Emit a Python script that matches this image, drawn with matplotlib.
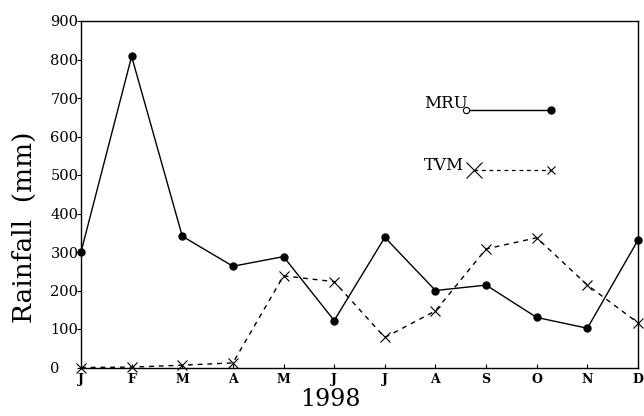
import matplotlib
matplotlib.use("Agg")
import matplotlib.pyplot as plt

months = ["J", "F", "M", "A", "M", "J", "J", "A", "S", "O", "N", "D"]
mru = [300, 808, 341, 263, 288, 122, 338, 200, 214, 130, 102, 331]
tvm = [0, 1, 6, 12, 238, 223, 78, 147, 308, 337, 214, 116]
yticks = [0, 100, 200, 300, 400, 500, 600, 700, 800, 900]

plt.rcParams['font.family'] = ['DejaVu Serif']

fig = plt.figure(figsize=(6.44, 4.16), dpi=100)
ax = fig.add_axes([81/644, 1-367.5/416, (638-81)/644, (367.5-21)/416])

x = list(range(len(months)))
ax.plot(x, mru, '-', color='black', lw=1.0, marker='o', ms=5, mfc='black', mec='black', clip_on=False, zorder=3)
ax.plot(x, tvm, color='black', lw=1.0, ls=(0, (3.5, 3.5)), marker='x', ms=7, mew=0.8, clip_on=False, zorder=3)

ax.set_xlim(0, 11)
ax.set_ylim(0, 900)
ax.set_xticks(x)
ax.set_xticklabels(months, fontsize=9, fontweight='bold')
ax.set_yticks(yticks)
ax.set_yticklabels([str(v) for v in yticks], fontsize=10.5)
ax.tick_params(axis='x', direction='in', length=3, width=0.8, pad=4)
ax.tick_params(axis='y', direction='out', length=3, width=0.8, pad=19)
for lab in ax.get_yticklabels():
    lab.set_horizontalalignment('left')
for sp in ax.spines.values():
    sp.set_linewidth(1.0)

ax.set_ylabel("Rainfall  (mm)", fontsize=19)
ax.yaxis.set_label_coords(-0.079, 0.405)
ax.set_xlabel("1998", fontsize=17)
ax.xaxis.set_label_coords(0.447, -0.058)

# custom legend drawn in axes coordinates
def ax_xy(px, py):
    return ((px - 81) / (638 - 81), (367.5 - py) / (367.5 - 21))

tx, ty = ax_xy(424, 103)
ax.text(tx, ty, "MRU", transform=ax.transAxes, fontsize=12, va='center', ha='left')
x0, y0 = ax_xy(466, 110)
x1, _ = ax_xy(551, 110)
ax.plot([x0, x1], [y0, y0], '-', color='black', lw=1.0, transform=ax.transAxes)
ax.plot([x0], [y0], 'o', ms=4.5, mfc='white', mec='black', mew=0.8, transform=ax.transAxes)
ax.plot([x1], [y0], 'o', ms=5, mfc='black', mec='black', transform=ax.transAxes)

tx, ty = ax_xy(424, 165)
ax.text(tx, ty, "TVM", transform=ax.transAxes, fontsize=12, va='center', ha='left')
x0, y0 = ax_xy(474, 170)
x1, _ = ax_xy(551, 170)
ax.plot([x0, x1], [y0, y0], color='black', lw=0.9, ls=(0, (3, 3)), transform=ax.transAxes)
ax.plot([x0], [y0], 'x', ms=11, mew=0.8, color='black', transform=ax.transAxes)
ax.plot([x1], [y0], 'x', ms=6, mew=0.8, color='black', transform=ax.transAxes)

fig.savefig("out.png", dpi=100)
